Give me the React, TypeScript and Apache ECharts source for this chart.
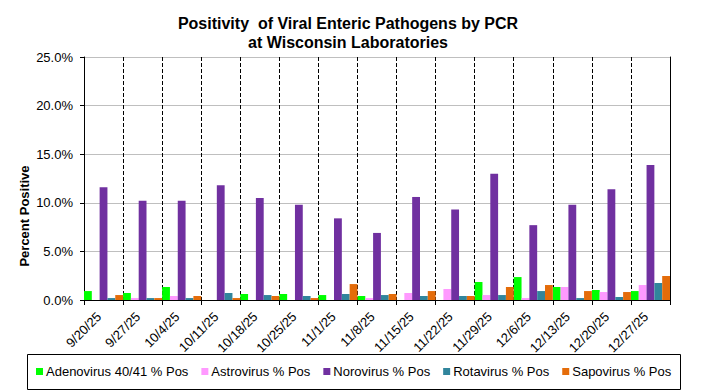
import React, { useEffect, useRef } from "react";
import * as echarts from "echarts";

const categories = [
  "9/20/25", "9/27/25", "10/4/25", "10/11/25", "10/18/25", "10/25/25", "11/1/25",
  "11/8/25", "11/15/25", "11/22/25", "11/29/25", "12/6/25", "12/13/25", "12/20/25", "12/27/25",
];
const adenovirus = [0.92, 0.72, 1.34, 0, 0.62, 0.62, 0.51, 0.41, 0, 0, 1.85, 2.36, 1.34, 1.03, 0.92];
const astrovirus = [0, 0.2, 0.41, 0, 0, 0, 0, 0.2, 0.72, 1.13, 0.51, 0.2, 1.34, 0.82, 1.54];
const norovirus = [11.6, 10.2, 10.2, 11.8, 10.5, 9.8, 8.4, 6.9, 10.6, 9.3, 13.0, 7.7, 9.8, 11.4, 13.9];
const rotavirus = [0.2, 0.2, 0.2, 0.72, 0.51, 0.41, 0.62, 0.51, 0.41, 0.41, 0.51, 0.92, 0.2, 0.31, 1.75];
const sapovirus = [0.51, 0.2, 0.41, 0.2, 0.41, 0.2, 1.64, 0.62, 0.92, 0.41, 1.34, 1.54, 0.92, 0.82, 2.47];

const seriesDefs = [
  { name: "Adenovirus 40/41 % Pos", data: adenovirus, color: "#00FF00" },
  { name: "Astrovirus % Pos", data: astrovirus, color: "#FF99FF" },
  { name: "Norovirus % Pos", data: norovirus, color: "#7030A0" },
  { name: "Rotavirus % Pos", data: rotavirus, color: "#31859C" },
  { name: "Sapovirus % Pos", data: sapovirus, color: "#E46C0A" },
];

const FONT = "Liberation Sans, Arial, sans-serif";

export default function App() {
  const ref = useRef<HTMLDivElement>(null);
  useEffect(() => {
    if (!ref.current) return;
    const chart = echarts.init(ref.current, undefined, { renderer: "svg" });
    chart.setOption({
      animation: false,
      backgroundColor: "#fff",
      title: {
        text: "Positivity  of Viral Enteric Pathogens by PCR\nat Wisconsin Laboratories",
        left: 343,
        top: 9,
        textAlign: "center",
        textStyle: { fontFamily: FONT, fontSize: 16, fontWeight: "bold", color: "#000", lineHeight: 19 },
      },
      grid: { left: 84, right: 34, top: 57, bottom: 91, containLabel: false },
      legend: {
        left: 36,
        top: 365,
        itemWidth: 7,
        itemHeight: 7,
        itemGap: 13,
        icon: "rect",
        padding: 0,
        textStyle: { fontFamily: FONT, fontSize: 13, color: "#000", padding: [0, 0, 0, -2] },
        data: seriesDefs.map((s) => s.name),
      },
      graphic: [
        {
          type: "rect",
          shape: { x: 27.5, y: 354.5, width: 653, height: 35 },
          style: { fill: "none", stroke: "#000", lineWidth: 1 },
          silent: true,
        },
        {
          type: "text",
          x: 24,
          y: 216,
          rotation: Math.PI / 2,
          style: {
            text: "Percent Positive",
            fontFamily: FONT,
            fontSize: 13,
            fontWeight: "bold",
            fill: "#000",
            align: "center",
            verticalAlign: "middle",
          },
          silent: true,
        },
      ],
      xAxis: {
        type: "category",
        data: categories,
        boundaryGap: true,
        axisLine: { lineStyle: { color: "#000", width: 1 } },
        axisTick: { show: true, interval: 0, length: 5, lineStyle: { color: "#000" } },
        axisLabel: {
          interval: 0,
          rotate: 45,
          fontFamily: FONT,
          fontSize: 13,
          color: "#000",
          margin: 19,
          verticalAlign: "bottom",
        },
        splitLine: { show: true, interval: 0, lineStyle: { color: "#000", type: [4, 2], width: 1 } },
      },
      yAxis: [
        {
          type: "value",
          min: 0,
          max: 25,
          interval: 5,
          axisLine: { show: true, lineStyle: { color: "#000", width: 1 } },
          axisTick: { show: true, length: 4, lineStyle: { color: "#000" } },
          axisLabel: {
            fontFamily: FONT,
            fontSize: 13,
            color: "#000",
            margin: 11,
            formatter: (v: number) => `${v.toFixed(1)}%`,
          },
          splitLine: { show: true, lineStyle: { color: "#BFBFBF", width: 1 } },
        },
        {
          type: "value",
          min: 0,
          max: 25,
          interval: 5,
          position: "right",
          axisLine: { show: true, lineStyle: { color: "#000", width: 1 } },
          axisTick: { show: false },
          axisLabel: { show: false },
          splitLine: { show: false },
        },
      ],
      series: seriesDefs.map((s) => ({
        type: "bar",
        name: s.name,
        data: s.data,
        yAxisIndex: 0,
        barGap: "0%",
        barCategoryGap: "0%",
        itemStyle: { color: s.color },
      })),
    });
    return () => chart.dispose();
  }, []);
  return <div ref={ref} style={{ width: 704, height: 391, position: "absolute", left: 0, top: 0 }} />;
}
